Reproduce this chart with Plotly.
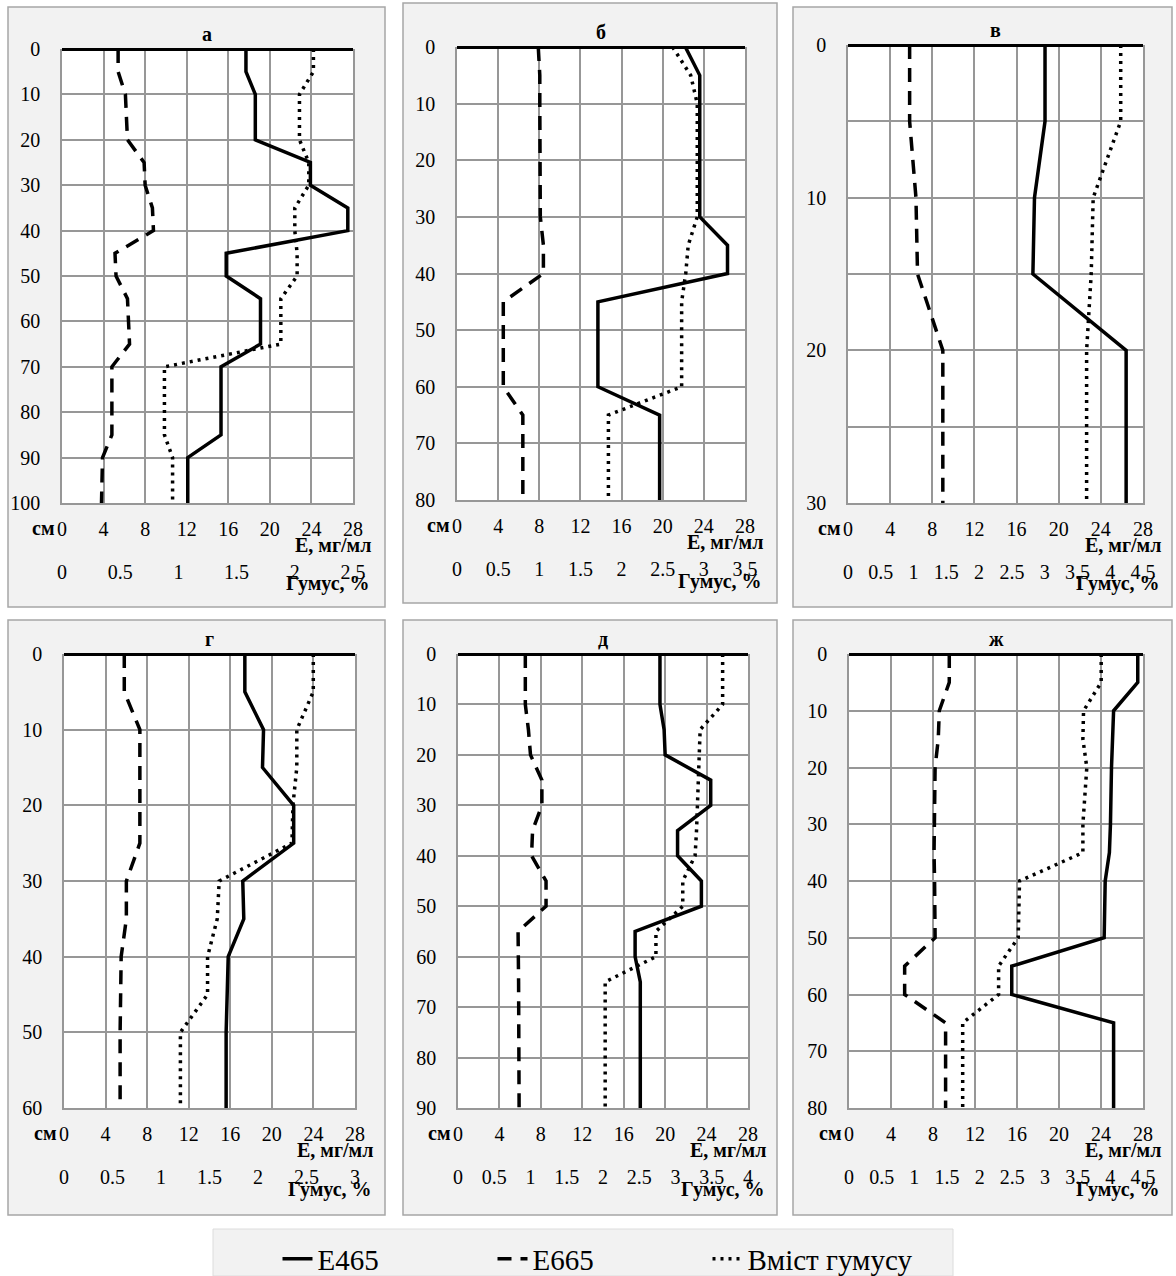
import plotly.graph_objects as go

W, H = 1176, 1276

# ---------------- data ----------------
titles = ["а", "б", "в", "г", "д", "ж"]
depth_max = [100, 80, 30, 60, 90, 80]
humus_max = [2.5, 3.5, 4.5, 3.0, 4.0, 4.5]
humus_ticks = [
    [0, 0.5, 1, 1.5, 2, 2.5],
    [0, 0.5, 1, 1.5, 2, 2.5, 3, 3.5],
    [0, 0.5, 1, 1.5, 2, 2.5, 3, 3.5, 4, 4.5],
    [0, 0.5, 1, 1.5, 2, 2.5, 3],
    [0, 0.5, 1, 1.5, 2, 2.5, 3, 3.5, 4],
    [0, 0.5, 1, 1.5, 2, 2.5, 3, 3.5, 4, 4.5],
]
e_ticks = [0, 4, 8, 12, 16, 20, 24, 28]

depth_a = [0, 5, 10, 20, 25, 30, 35, 40, 45, 50, 55, 65, 70, 85, 90, 100]
e465_a = [17.7, 17.7, 18.6, 18.6, 23.9, 23.9, 27.5, 27.5, 15.8, 15.8, 19.1, 19.1, 15.3, 15.3, 12.1, 12.1]
e665_a = [5.4, 5.4, 6.1, 6.3, 7.9, 8.0, 8.7, 8.8, 5.1, 5.2, 6.3, 6.5, 4.8, 4.8, 3.9, 3.8]
hum_a = [2.16, 2.16, 2.04, 2.04, 2.12, 2.12, 2.0, 2.0, 2.02, 2.02, 1.88, 1.88, 0.88, 0.88, 0.95, 0.95]

depth_b = [0, 5, 10, 20, 30, 35, 40, 45, 50, 60, 65, 70, 80]
e465_b = [22.2, 23.6, 23.6, 23.6, 23.6, 26.3, 26.3, 13.7, 13.7, 13.7, 19.7, 19.7, 19.7]
e665_b = [7.9, 8.05, 8.05, 8.05, 8.1, 8.4, 8.4, 4.5, 4.5, 4.5, 6.4, 6.4, 6.4]
hum_b = [2.62, 2.84, 2.92, 2.92, 2.92, 2.81, 2.78, 2.73, 2.73, 2.73, 1.84, 1.84, 1.84]

depth_c = [0, 5, 10, 15, 20, 25, 30]
e465_c = [18.7, 18.7, 17.7, 17.55, 26.4, 26.4, 26.4]
e665_c = [5.85, 5.85, 6.45, 6.6, 9.0, 9.0, 9.0]
hum_c = [4.16, 4.16, 3.74, 3.71, 3.64, 3.64, 3.64]

depth_d = [0, 5, 10, 15, 20, 25, 30, 35, 40, 45, 50, 60]
e465_d = [17.4, 17.4, 19.2, 19.1, 22.1, 22.1, 17.2, 17.3, 15.8, 15.7, 15.6, 15.6]
e665_d = [5.8, 5.8, 7.3, 7.3, 7.3, 7.3, 6.0, 6.0, 5.5, 5.45, 5.4, 5.4]
hum_d = [2.57, 2.57, 2.4, 2.4, 2.36, 2.35, 1.6, 1.58, 1.48, 1.48, 1.2, 1.2]

depth_e = [0, 10, 15, 20, 25, 30, 35, 40, 45, 50, 55, 60, 65, 90]
e465_e = [19.5, 19.5, 19.9, 20.0, 24.4, 24.4, 21.2, 21.2, 23.5, 23.5, 17.1, 17.1, 17.6, 17.6]
e665_e = [6.5, 6.5, 6.8, 7.0, 8.1, 8.1, 7.2, 7.1, 8.5, 8.5, 5.8, 5.85, 5.85, 5.9]
hum_e = [3.65, 3.65, 3.34, 3.33, 3.31, 3.3, 3.29, 3.27, 3.1, 3.1, 2.73, 2.73, 2.03, 2.03]

depth_f = [0, 5, 10, 15, 20, 30, 35, 40, 50, 55, 60, 65, 80]
e465_f = [27.5, 27.5, 25.2, 25.1, 25.0, 24.9, 24.8, 24.4, 24.3, 15.5, 15.5, 25.2, 25.2]
e665_f = [9.55, 9.55, 8.6, 8.5, 8.2, 8.1, 8.1, 8.15, 8.2, 5.3, 5.3, 9.2, 9.2]
hum_f = [3.86, 3.86, 3.59, 3.58, 3.64, 3.58, 3.58, 2.61, 2.59, 2.29, 2.29, 1.74, 1.74]

depths = [depth_a, depth_b, depth_c, depth_d, depth_e, depth_f]
e465 = [e465_a, e465_b, e465_c, e465_d, e465_e, e465_f]
e665 = [e665_a, e665_b, e665_c, e665_d, e665_e, e665_f]
humus = [hum_a, hum_b, hum_c, hum_d, hum_e, hum_f]

series_names = ["E465", "E665", "Вміст гумусу"]

# ---------------- layout geometry (pixels) ----------------
boxes = [(8, 7, 385, 607), (403, 3, 777, 603), (793, 7, 1172, 607),
         (8, 620, 385, 1215), (403, 620, 777, 1215), (793, 620, 1172, 1215)]
plots = [(62, 49, 353, 503), (457, 47, 745, 500), (848, 45, 1143, 503),
         (64, 654, 355, 1108), (458, 654, 748, 1108), (849, 654, 1143, 1108)]

FONT = "Liberation Serif, Times New Roman, serif"
GRID = "#979797"
TF = dict(family=FONT, size=20, color="black")


def px(x):
    return x / W


def py(y):
    return 1 - y / H


fig = go.Figure()
shapes = []
annotations = []
layout = {}

for i in range(6):
    bx0, by0, bx1, by1 = boxes[i]
    x0, y0, x1, y1 = plots[i]
    shapes.append(dict(type="rect", xref="paper", yref="paper", layer="below",
                       x0=px(bx0), x1=px(bx1), y0=py(by1), y1=py(by0),
                       fillcolor="#f2f2f2", line=dict(color="#a6a6a6", width=1.5)))
    shapes.append(dict(type="rect", xref="paper", yref="paper", layer="below",
                       x0=px(x0), x1=px(x1), y0=py(y1), y1=py(y0),
                       fillcolor="white", line=dict(width=0)))

    xe = f"x{2*i+1}"
    xh = f"x{2*i+2}"
    yy = f"y{i+1}"
    xe_l = "xaxis" if i == 0 else f"xaxis{2*i+1}"
    xh_l = f"xaxis{2*i+2}"
    yy_l = "yaxis" if i == 0 else f"yaxis{i+1}"

    dom_x = [px(x0), px(x1)]
    dom_y = [py(y1), py(y0)]

    layout[xe_l] = dict(domain=dom_x, anchor=yy, range=[0, 28], tickmode="array",
                        tickvals=e_ticks, showgrid=True, gridcolor=GRID, gridwidth=1.5,
                        zeroline=False, showline=True, linecolor=GRID, linewidth=1.5,
                        ticks="", ticklabelstandoff=7, tickfont=TF, fixedrange=True,
                        automargin=False)
    hm = humus_max[i]
    layout[xh_l] = dict(overlaying=xe, anchor="free", position=py(y1 + 55),
                        domain=dom_x, side="bottom",
                        range=[0, hm], tickmode="array", tickvals=humus_ticks[i],
                        ticktext=[f"{v:g}" for v in humus_ticks[i]],
                        showgrid=False, zeroline=False, showline=False, ticks="",
                        tickfont=TF, fixedrange=True, automargin=False)
    dm = depth_max[i]
    ycfg = dict(domain=dom_y, anchor=xe, range=[dm, 0], tickmode="linear", tick0=0, dtick=10,
                showgrid=True, gridcolor=GRID, gridwidth=1.5,
                zeroline=True, zerolinecolor="black", zerolinewidth=2.5,
                showline=True, mirror=True, linecolor=GRID, linewidth=1.5,
                ticks="", ticklabelstandoff=16, tickfont=TF, fixedrange=True,
                automargin=False)
    if dm == 30:
        ycfg["minor"] = dict(dtick=5, tick0=0, showgrid=True, gridcolor=GRID, gridwidth=1.5)
    layout[yy_l] = ycfg

    d = depths[i]
    fig.add_trace(go.Scatter(x=e465[i], y=d, xaxis=xe, yaxis=yy, mode="lines",
                             name=series_names[0], legendgroup="s1", showlegend=(i == 0),
                             line=dict(color="black", width=3.5)))
    fig.add_trace(go.Scatter(x=e665[i], y=d, xaxis=xe, yaxis=yy, mode="lines",
                             name=series_names[1], legendgroup="s2", showlegend=(i == 0),
                             line=dict(color="black", width=3.5, dash="14px,9px")))
    fig.add_trace(go.Scatter(x=humus[i], y=d, xaxis=xh, yaxis=yy, mode="lines",
                             name=series_names[2], legendgroup="s3", showlegend=(i == 0),
                             line=dict(color="black", width=3.5, dash="3px,5px")))

    cx = (x0 + x1) / 2
    annotations.append(dict(text=f"<b>{titles[i]}</b>", x=px(cx), y=py(y0 - 15), xref="paper",
                            yref="paper", showarrow=False, xanchor="center", yanchor="middle",
                            font=TF))
    annotations.append(dict(text="<b>см</b>", x=px(x0 - 5), y=py(y1 + 25), xref="paper",
                            yref="paper", showarrow=False, xanchor="right", yanchor="middle",
                            font=TF))
    annotations.append(dict(text="<b>E, мг/мл</b>", x=px(x1 + 20), y=py(y1 + 42), xref="paper",
                            yref="paper", showarrow=False, xanchor="right", yanchor="middle",
                            font=TF))
    annotations.append(dict(text="<b>Гумус, %</b>", x=px(x1 + 19), y=py(y1 + 81), xref="paper",
                            yref="paper", showarrow=False, xanchor="right", yanchor="middle",
                            font=TF))

# legend box
shapes.append(dict(type="rect", xref="paper", yref="paper", layer="below",
                   x0=px(213), x1=px(953), y0=py(1276), y1=py(1229),
                   fillcolor="#f2f2f2", line=dict(color="#dcdcdc", width=1)))

fig.update_layout(
    width=W, height=H, autosize=False,
    margin=dict(l=0, r=0, t=0, b=0, pad=0, autoexpand=False),
    paper_bgcolor="white", plot_bgcolor="white",
    font=dict(family=FONT, size=20, color="black"),
    shapes=shapes, annotations=annotations,
    showlegend=True,
    legend=dict(orientation="h", x=px(600), xanchor="center", y=py(1259), yanchor="middle",
                bgcolor="rgba(0,0,0,0)", font=dict(family=FONT, size=29, color="black"),
                entrywidth=170, entrywidthmode="pixels", itemwidth=30, tracegroupgap=0),
    **layout,
)

css_js = (
    "var de=document.documentElement,b=document.body;"
    "de.style.margin='0';de.style.padding='0';de.style.overflow='hidden';"
    "b.style.margin='0';b.style.padding='0';b.style.overflow='hidden';"
)

fig.write_html("out.html", config={"displayModeBar": False}, post_script=css_js)
